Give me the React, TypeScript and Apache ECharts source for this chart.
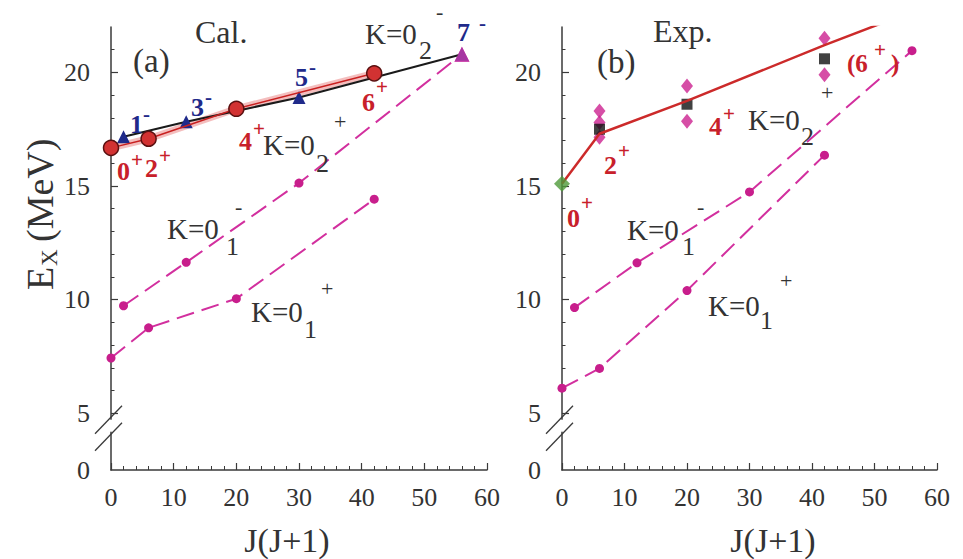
import React, { useEffect, useRef } from "react";
import * as echarts from "echarts";

// ---------- tick labels ----------
const xTickValues = [0, 10, 20, 30, 40, 50, 60];
const yTickLabels = ["0", "5", "10", "15", "20"];
const yTickValues = [2.5, 5, 10, 15, 20]; // "0" sits below the axis break
const yMajorTicks = [5, 10, 15, 20];
const yMinorTicks = [6, 7, 8, 9, 11, 12, 13, 14, 16, 17, 18, 19, 21];
const yBreakAt = 4.45;

// ---------- (a) Cal. ----------
const calK02pJ = [0, 6, 20, 42];
const calK02pE = [16.68, 17.08, 18.4, 19.96];
const calK02mJ = [2, 12, 30, 56];
const calK02mE = [17.17, 17.83, 18.9, 20.8];
const calK01mJ = [2, 12, 30, 56];
const calK01mE = [9.73, 11.64, 15.13, 20.8];
const calK01pJ = [0, 6, 20, 42];
const calK01pE = [7.43, 8.76, 10.04, 14.42];

// ---------- (b) Exp. ----------
const expBandJ = [0, 6, 20, 42, 51];
const expBandE = [15.1, 17.3, 18.75, 21.2, 22.15];
const expGroundJ = [0];
const expGroundE = [15.1];
const expDiamondJ = [6, 6, 6, 20, 20, 42, 42];
const expDiamondE = [18.3, 17.8, 17.15, 19.4, 17.85, 21.5, 19.9];
const expSquareJ = [6, 20, 42];
const expSquareE = [17.5, 18.6, 20.6];
const expK01mJ = [2, 12, 30, 56];
const expK01mE = [9.65, 11.62, 14.74, 20.96];
const expK01pJ = [0, 6, 20, 42];
const expK01pE = [6.1, 6.97, 10.4, 16.36];

const SERIF = "Liberation Serif";
const AXIS = "#3a3a3a";
const RED = "#c8202a";
const NAVY = "#1f2a8a";
const MAGENTA = "#d22f9e";
const DARK = "#333";

const pts = (xs: number[], ys: number[]) => xs.map((x, i) => [x, ys[i]]);

function xAxisFor(gridIndex: number) {
  return {
    type: "value",
    gridIndex,
    min: 0,
    max: 60,
    interval: 10,
    axisLine: { show: true, onZero: false, lineStyle: { color: AXIS, width: 1.5 } },
    axisTick: { show: true, inside: true, length: 7, lineStyle: { color: AXIS, width: 1.2 } },
    minorTick: { show: true, splitNumber: 5, length: 4, lineStyle: { color: AXIS, width: 1 } },
    axisLabel: {
      customValues: xTickValues,
      fontFamily: SERIF,
      fontSize: 26,
      color: DARK,
      margin: 14,
    },
    splitLine: { show: false },
    minorSplitLine: { show: false },
  };
}

function yAxisMajor(gridIndex: number) {
  return {
    type: "value",
    gridIndex,
    min: 2.5,
    max: 22,
    axisLine: { show: true, onZero: false, lineStyle: { color: AXIS, width: 1.5 } },
    axisTick: {
      show: true,
      inside: true,
      length: 7,
      customValues: yMajorTicks,
      lineStyle: { color: AXIS, width: 1.2 },
    },
    axisLabel: {
      customValues: yTickValues,
      formatter: (v: number) => {
        const i = yTickValues.indexOf(v);
        return i >= 0 ? yTickLabels[i] : "";
      },
      fontFamily: SERIF,
      fontSize: 26,
      color: DARK,
      margin: 21,
    },
    splitLine: { show: false },
  };
}

function yAxisMinor(gridIndex: number) {
  return {
    type: "value",
    gridIndex,
    min: 2.5,
    max: 22,
    position: "left",
    axisLine: { show: false },
    axisTick: {
      show: true,
      inside: true,
      length: 3.5,
      customValues: yMinorTicks,
      lineStyle: { color: AXIS, width: 1 },
    },
    axisLabel: { show: false },
    splitLine: { show: false },
  };
}

function dashed(name: string, xi: number, yi: number, xs: number[], ys: number[], lastTriangle = false) {
  const data = pts(xs, ys).map((p, i) =>
    lastTriangle && i === xs.length - 1
      ? { value: p, symbol: "triangle", symbolSize: 15, itemStyle: { color: "#c83aa8" } }
      : p
  );
  return {
    name,
    type: "line",
    xAxisIndex: xi,
    yAxisIndex: yi,
    data,
    symbol: "circle",
    symbolSize: 9,
    itemStyle: { color: "#c81e8c" },
    lineStyle: { color: MAGENTA, width: 2, type: [18, 8] },
    z: 3,
  };
}

function txt(x: number, y: number, text: string, size: number, color = DARK, bold = false, align = "left") {
  return {
    type: "text",
    x,
    y,
    z: 20,
    style: {
      text,
      fill: color,
      fontFamily: SERIF,
      fontSize: size,
      fontWeight: bold ? "bold" : "normal",
      textAlign: align,
      textVerticalAlign: "middle",
    },
  };
}

// state label: main glyph + superscript
function state(x: number, y: number, main: string, supX: number, supY: number, sup: string, color: string) {
  return [txt(x, y, main, 26, color, true), txt(supX, supY, sup, 21, color, true)];
}

// K=0 label with subscript and optional superscript
function kLabel(x: number, y: number, sub: string, subX: number, subY: number, sup?: string, supX = 0, supY = 0) {
  const out: any[] = [txt(x, y, "K=0", 29), txt(subX, subY, sub, 26)];
  if (sup) out.push(txt(supX, supY, sup, 22));
  return out;
}

const textGraphics: any[] = [
  // axis names
  {
    type: "group",
    x: 40,
    y: 212,
    rotation: Math.PI / 2,
    children: [
      txt(-78, 0, "E", 38),
      txt(-54, 9, "X", 23),
      txt(-30, 0, "(MeV)", 38),
    ],
  },
  txt(287, 540, "J(J+1)", 34, DARK, false, "center"),
  txt(773, 540, "J(J+1)", 34, DARK, false, "center"),

  // panel titles
  txt(133, 61, "(a)", 33),
  txt(195, 32, "Cal.", 32),
  txt(597, 62, "(b)", 33),
  txt(653, 31, "Exp.", 32),

  // (a) negative-parity states
  ...state(130, 124, "1", 143, 114, "-", NAVY),
  ...state(191, 107, "3", 205, 97, "-", NAVY),
  ...state(295, 77, "5", 309, 67, "-", NAVY),
  ...state(457, 32, "7", 479, 23, "-", NAVY),
  // (a) positive-parity states
  ...state(117, 171, "0", 131, 160, "+", RED),
  ...state(145, 168, "2", 159, 156, "+", RED),
  ...state(239, 141, "4", 253, 129, "+", RED),
  ...state(362, 102, "6", 376, 87, "+", RED),
  // (a) band labels
  ...kLabel(365, 34, "2", 419, 50, "-", 436, 11),
  ...kLabel(263, 145, "2", 316, 163, "+", 334, 121),
  ...kLabel(167, 229, "1", 226, 246, "-", 235, 206),
  ...kLabel(251, 312, "1", 304, 329, "+", 321, 288),

  // (b) states
  ...state(567, 218, "0", 581, 203, "+", RED),
  ...state(604, 165, "2", 618, 151, "+", RED),
  ...state(709, 126, "4", 723, 114, "+", RED),
  txt(847, 63, "(6", 25, RED, true),
  txt(874, 50, "+", 21, RED, true),
  txt(891, 63, ")", 25, RED, true),
  // (b) band labels
  ...kLabel(748, 120, "2", 801, 136, "+", 821, 92),
  ...kLabel(627, 230, "1", 682, 246, "-", 697, 206),
  ...kLabel(708, 306, "1", 760, 320, "+", 780, 280),
];

const option: any = {
  animation: false,
  backgroundColor: "#ffffff",
  textStyle: { fontFamily: SERIF },
  grid: [
    { left: 111, top: 27, width: 376, height: 443, containLabel: false },
    { left: 562, top: 27, width: 375, height: 443, containLabel: false },
  ],
  xAxis: [xAxisFor(0), xAxisFor(1)],
  yAxis: [yAxisMajor(0), yAxisMinor(0), yAxisMajor(1), yAxisMinor(1)],
  series: [
    // ----- (a) -----
    dashed("Cal K=0_1+", 0, 0, calK01pJ, calK01pE),
    dashed("Cal K=0_1-", 0, 0, calK01mJ, calK01mE, true),
    {
      name: "Cal K=0_2+ glow",
      type: "line",
      xAxisIndex: 0,
      yAxisIndex: 0,
      data: pts(calK02pJ, calK02pE),
      symbol: "none",
      lineStyle: { color: "rgba(230,110,110,0.45)", width: 7 },
      z: 2,
    },
    {
      name: "Cal K=0_2-",
      type: "line",
      xAxisIndex: 0,
      yAxisIndex: 0,
      data: pts(calK02mJ, calK02mE),
      symbol: "triangle",
      symbolSize: 13,
      itemStyle: { color: NAVY },
      lineStyle: { color: "#1a1a1a", width: 2 },
      z: 4,
    },
    {
      name: "Cal K=0_2+",
      type: "line",
      xAxisIndex: 0,
      yAxisIndex: 0,
      data: pts(calK02pJ, calK02pE),
      symbol: "circle",
      symbolSize: 15,
      itemStyle: { color: "#d23232", borderColor: "#5a1010", borderWidth: 1.5 },
      lineStyle: { color: "#c82020", width: 1.5 },
      z: 5,
    },
    {
      name: "Cal 7-",
      type: "scatter",
      xAxisIndex: 0,
      yAxisIndex: 0,
      data: [[calK01mJ[3], calK01mE[3]]],
      symbol: "triangle",
      symbolSize: 15,
      itemStyle: { color: "#c83aa8" },
      z: 6,
    },
    // ----- (b) -----
    dashed("Exp K=0_1+", 1, 2, expK01pJ, expK01pE),
    dashed("Exp K=0_1-", 1, 2, expK01mJ, expK01mE),
    {
      name: "Exp diamonds",
      type: "scatter",
      xAxisIndex: 1,
      yAxisIndex: 2,
      data: pts(expDiamondJ, expDiamondE),
      symbol: "diamond",
      symbolSize: [12, 15],
      itemStyle: { color: "#cc2290" },
      z: 4,
    },
    {
      name: "Exp squares",
      type: "scatter",
      xAxisIndex: 1,
      yAxisIndex: 2,
      data: pts(expSquareJ, expSquareE),
      symbol: "rect",
      symbolSize: 11,
      itemStyle: { color: "#111" },
      z: 5,
    },
    {
      name: "Exp band",
      type: "line",
      xAxisIndex: 1,
      yAxisIndex: 2,
      data: pts(expBandJ, expBandE),
      symbol: "none",
      lineStyle: { color: "#cc2a2a", width: 2.5 },
      z: 6,
    },
    {
      name: "Exp 0+",
      type: "scatter",
      xAxisIndex: 1,
      yAxisIndex: 2,
      data: pts(expGroundJ, expGroundE),
      symbol: "diamond",
      symbolSize: 16,
      itemStyle: { color: "#4f9a3a" },
      z: 7,
    },
  ],
};

export default function App() {
  const ref = useRef<HTMLDivElement>(null);
  useEffect(() => {
    const el = ref.current;
    if (!el) return;
    const chart = echarts.init(el, null, { renderer: "svg" });
    chart.setOption(option);
    const breaks: any[] = [];
    [0, 1].forEach((gi) => {
      const p = chart.convertToPixel({ gridIndex: gi }, [0, yBreakAt]) as number[];
      if (!p) return;
      const ax = p[0];
      const yc = p[1];
      breaks.push({
        type: "rect",
        z: 30,
        shape: { x: ax - 3, y: yc - 6, width: 6, height: 12 },
        style: { fill: "#ffffff" },
      });
      [-8.5, 8.5].forEach((d) => {
        breaks.push({
          type: "line",
          z: 31,
          shape: { x1: ax - 16, y1: yc + d + 16.5, x2: ax + 11, y2: yc + d - 11.5 },
          style: { stroke: AXIS, lineWidth: 1.3 },
        });
      });
    });
    chart.setOption({ graphic: [...textGraphics, ...breaks] });
    return () => chart.dispose();
  }, []);
  return (
    <div
      ref={ref}
      style={{ position: "absolute", left: 0, top: 0, width: 963, height: 559, background: "#fff" }}
    />
  );
}
